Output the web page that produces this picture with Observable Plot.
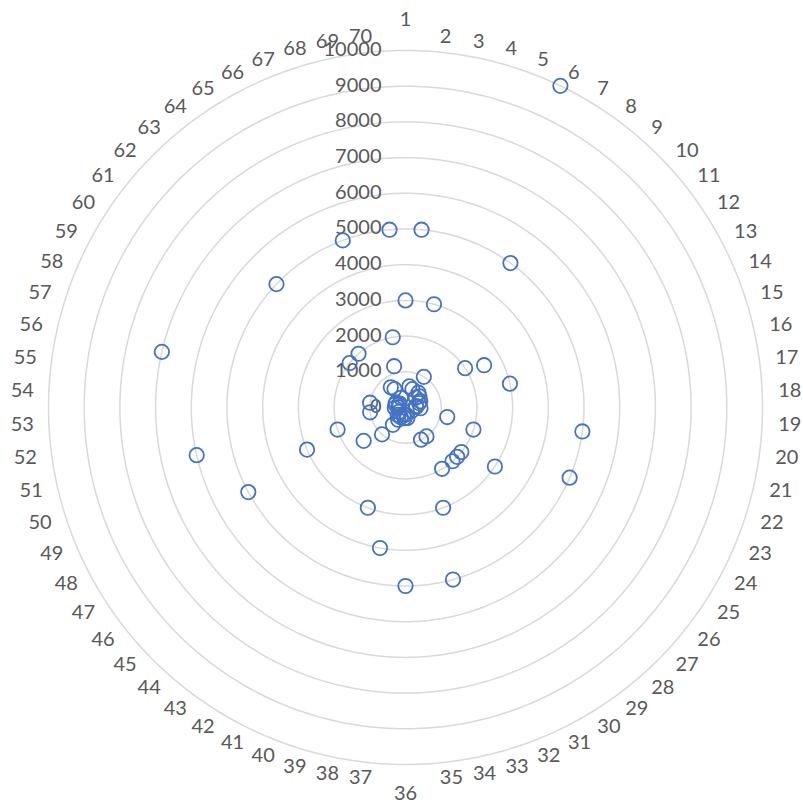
<!DOCTYPE html>
<html><head><meta charset="utf-8">
<script src="https://cdn.jsdelivr.net/npm/d3@7"></script>
<script src="https://cdn.jsdelivr.net/npm/@observablehq/plot@0.6"></script>
<style>body{margin:0;background:#fff}</style>
</head><body><div id="chart"></div>
<script>
const categories = ["1","2","3","4","5","6","7","8","9","10","11","12","13","14","15","16","17","18","19","20",
  "21","22","23","24","25","26","27","28","29","30","31","32","33","34","35","36","37","38","39","40",
  "41","42","43","44","45","46","47","48","49","50","51","52","53","54","55","56","57","58","59","60",
  "61","62","63","64","65","66","67","68","69","70"];
const values = [3000,5000,600,3000,550,10000,1000,5000,550,400,
  500,2000,2500,450,400,3000,300,300,420,5000,
  1200,2000,5000,200,3000,2000,2000,2000,1000,2000,
  1000,3000,5000,300,200,5000,300,4000,200,3000,
  300,400,600,1000,300,1500,200,5000,3000,2000,
  6000,1000,300,200,1000,7000,300,200,300,200,
  2000,5000,2000,700,600,300,5000,1200,2000,5000];
const ringTicks = [0,1000,2000,3000,4000,5000,6000,7000,8000,9000,10000];

const W = 803, H = 804, cx = 405, cy = 407, ppu = 357 / 10000;
const n = categories.length;
const ang = i => 2 * Math.PI * i / n;

const points = values.map((v, i) => ({cat: categories[i], x: v * Math.sin(ang(i)), y: v * Math.cos(ang(i))}));
const rings = ringTicks.filter(t => t > 0).flatMap(t =>
  d3.range(0, 361, 1).map(a => ({t, x: t * Math.sin(a * Math.PI / 180), y: t * Math.cos(a * Math.PI / 180)})));

const labelR = 372 / ppu;
const labels = categories.map((c, i) => {
  const s = Math.sin(ang(i)), co = Math.cos(ang(i));
  let anchor = Math.abs(s) < 1e-6 ? "middle" : (s > 0 ? "start" : "end");
  let dy = 0;
  if (anchor === "middle") dy = co > 0 ? -16 : 14;
  return {c, x: labelR * s + (anchor === "start" ? 1 / ppu : 0), y: labelR * co, anchor, dy};
});

const font = {fontSize: 20, fill: "#595959"};
const textFor = (anchor, dy) => Plot.text(labels.filter(d => d.anchor === anchor && d.dy === dy),
  {x: "x", y: "y", text: "c", textAnchor: anchor, dy, ...font});

const chart = Plot.plot({
  width: W, height: H,
  marginTop: 0, marginRight: 0, marginBottom: 0, marginLeft: 0,
  style: {fontFamily: "Lato, 'Open Sans', sans-serif", background: "#fff"},
  x: {domain: [-cx / ppu, (W - cx) / ppu], range: [0, W], axis: null},
  y: {domain: [-(H - cy) / ppu, cy / ppu], range: [H, 0], axis: null},
  marks: [
    Plot.line(rings, {x: "x", y: "y", z: "t", stroke: "#d9d9d9", strokeWidth: 1.5}),
    Plot.text(ringTicks, {x: () => -24 / ppu, y: d => d, text: d => String(d), textAnchor: "end", dy: -1, ...font}),
    textFor("start", 0),
    textFor("end", 0),
    ...[...new Set(labels.filter(d => d.anchor === "middle").map(d => d.dy))].map(dy => textFor("middle", dy)),
    Plot.dot(points, {x: "x", y: "y", r: 7.2, stroke: "#4472c4", strokeWidth: 1.8, fill: "none"})
  ]
});
document.getElementById("chart").appendChild(chart);
</script>
</body></html>
